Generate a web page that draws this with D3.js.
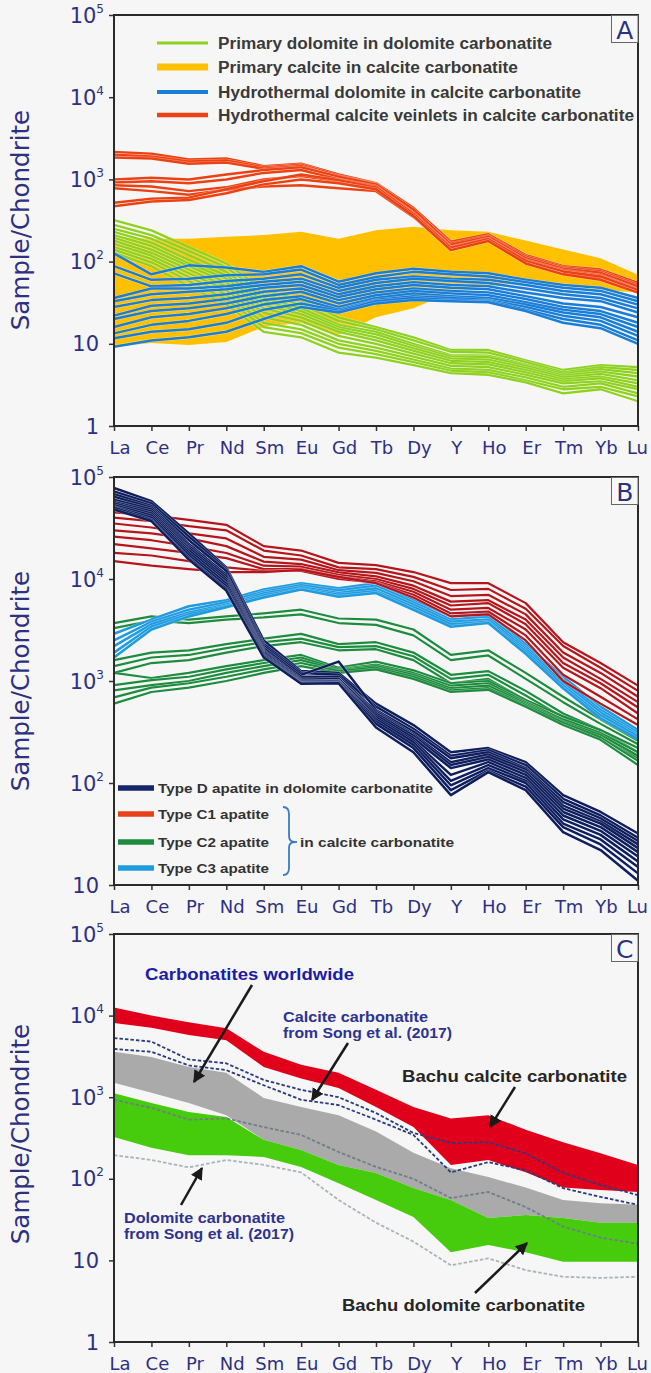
<!DOCTYPE html>
<html>
<head>
<meta charset="utf-8">
<script src="https://cdn.jsdelivr.net/npm/d3@7"></script>
<style>
  html, body { margin: 0; padding: 0; background: #f6f6f6; }
  svg { display: block; }
</style>
</head>
<body>
<svg id="chart" width="651" height="1373"></svg>
<script>
// ---------- shared axis data ----------
const elements = ["La","Ce","Pr","Nd","Sm","Eu","Gd","Tb","Dy","Y","Ho","Er","Tm","Yb","Lu"];
const ticksA = [1, 10, 1e2, 1e3, 1e4, 1e5];
const ticksB = [10, 1e2, 1e3, 1e4, 1e5];
const ticksC = [1, 10, 1e2, 1e3, 1e4, 1e5];

// ---------- panel A: carbonate minerals ----------
const primaryDolomite = [
  [320, 240, 150, 95, 45, 34, 21, 16, 12, 8.4, 8.4, 6.3, 4.8, 5.5, 5.2],
  [280, 210, 135, 85, 40, 30, 19, 15, 11, 8.0, 7.8, 6.0, 4.5, 5.2, 4.8],
  [250, 190, 120, 75, 36, 27, 17, 14, 10, 7.3, 7.2, 5.6, 4.3, 4.9, 4.4],
  [230, 170, 105, 68, 33, 25, 16, 13, 9.4, 7.0, 6.9, 5.4, 4.1, 4.6, 4.0],
  [210, 155, 95, 62, 30, 23, 15, 12, 8.8, 6.6, 6.4, 5.1, 3.9, 4.3, 3.6],
  [195, 140, 88, 56, 27, 21, 14, 11, 8.2, 6.2, 6.0, 4.8, 3.7, 4.0, 3.3],
  [180, 128, 80, 50, 24, 19, 12.5, 10, 7.6, 5.8, 5.6, 4.5, 3.5, 3.8, 3.0],
  [165, 118, 72, 45, 21, 17, 11, 9.0, 7.0, 5.4, 5.2, 4.2, 3.3, 3.5, 2.8],
  [150, 108, 65, 40, 18, 15, 10, 8.2, 6.4, 5.0, 4.8, 3.9, 3.0, 3.3, 2.5],
  [140, 98, 58, 35, 16, 13.5, 9.0, 7.5, 6.0, 4.7, 4.5, 3.6, 2.8, 3.0, 2.3],
  [128, 88, 50, 30, 14, 12, 7.8, 6.8, 5.5, 4.4, 4.2, 3.4, 2.5, 2.8, 2.0]
];
const primaryCalciteUpper = [200, 190, 190, 200, 210, 230, 190, 240, 265, 240, 230, 180, 140, 110, 69];
const primaryCalciteLower = [9.2, 10.2, 9.7, 10.5, 16, 18, 12.8, 21, 27, 42, 50, 55, 48, 45, 42];
const hydroDolomite = [
  [126, 70, 90, 85, 75, 88, 57, 72, 82, 75, 72, 60, 52, 48, 36],
  [88, 60, 62, 68, 70, 80, 52, 65, 75, 70, 66, 56, 48, 44, 33],
  [72, 50, 52, 58, 62, 70, 48, 60, 66, 62, 60, 52, 44, 40, 30],
  [36, 47, 47, 50, 57, 62, 44, 55, 62, 58, 55, 47, 40, 36, 27],
  [33, 40, 43, 46, 52, 57, 40, 50, 56, 52, 50, 42, 36, 33, 24],
  [28, 34, 36, 40, 48, 52, 37, 46, 52, 48, 46, 38, 31, 28, 21],
  [22, 29, 31, 35, 43, 47, 34, 42, 47, 44, 42, 35, 28, 25, 18],
  [20, 25, 27, 31, 38, 43, 31, 39, 44, 41, 39, 32, 26, 23, 16],
  [16, 21, 23, 27, 34, 38, 28, 36, 41, 38, 36, 30, 24, 21, 14],
  [13.4, 17, 19, 23, 30, 35, 26, 34, 38, 36, 34, 28, 22, 19, 12.5],
  [11.7, 14, 15, 18, 26, 31, 25, 33, 36, 34, 33, 26, 20, 17, 11],
  [9.2, 11, 12, 14, 20, 28, 24, 31, 34, 33, 32, 25, 18, 15.5, 10]
];
const hydroCalcite = [
  [2150, 2050, 1750, 1800, 1450, 1550, 1150, 900, 450, 175, 215, 120, 88, 80, 55],
  [2000, 1900, 1650, 1700, 1400, 1500, 1100, 880, 420, 165, 205, 115, 85, 76, 52],
  [1850, 1800, 1550, 1600, 1350, 1450, 1050, 850, 400, 155, 195, 108, 80, 72, 49],
  [1000, 1050, 1000, 1150, 1300, 1400, 1080, 870, 430, 160, 200, 110, 82, 73, 50],
  [920, 950, 900, 1000, 1200, 1300, 1000, 820, 390, 150, 190, 104, 78, 68, 46],
  [850, 820, 720, 800, 1000, 1100, 950, 780, 370, 145, 185, 100, 75, 65, 44],
  [780, 720, 650, 750, 820, 850, 780, 720, 350, 140, 180, 96, 72, 62, 43],
  [520, 580, 600, 760, 950, 1150, 980, 800, 380, 148, 188, 102, 76, 66, 45],
  [470, 540, 560, 680, 870, 1000, 900, 760, 360, 138, 178, 95, 70, 60, 42]
];
const legendA = [
  "Primary dolomite in dolomite carbonatite",
  "Primary calcite in calcite carbonatite",
  "Hydrothermal dolomite in calcite carbonatite",
  "Hydrothermal calcite veinlets in calcite carbonatite"
];

// ---------- panel B: apatite ----------
const apatiteD = [
  [78000, 58000, 28000, 13000, 2500, 1250, 1200, 600, 370, 200, 220, 160, 76, 52, 32],
  [72000, 55000, 26000, 12500, 2300, 1200, 1150, 560, 340, 185, 210, 150, 70, 48, 29],
  [68000, 52000, 24000, 12000, 2200, 1150, 1550, 520, 320, 175, 200, 140, 65, 45, 27],
  [64000, 50000, 22000, 11000, 2100, 1100, 1100, 500, 300, 160, 190, 135, 60, 42, 25],
  [60000, 48000, 21000, 10500, 2000, 1050, 1050, 480, 290, 150, 180, 128, 56, 40, 23],
  [57000, 46000, 20000, 10000, 1950, 1020, 1050, 460, 275, 140, 170, 120, 52, 37, 21],
  [55000, 44000, 19000, 9500, 1900, 1000, 1000, 440, 260, 120, 160, 112, 48, 34, 19],
  [53000, 42000, 18000, 9000, 1850, 980, 1000, 420, 250, 105, 150, 105, 44, 31, 17],
  [51000, 40000, 17000, 8500, 1800, 960, 980, 400, 235, 95, 140, 100, 40, 28, 15],
  [50000, 38000, 16000, 8000, 1750, 950, 960, 380, 220, 85, 132, 92, 37, 25, 13],
  [48000, 37000, 15500, 7700, 1700, 940, 950, 350, 200, 76, 128, 85, 33, 22, 11]
];
const apatiteC1 = [
  [45000, 42000, 38000, 34000, 21000, 19000, 14400, 13700, 11700, 9100, 9100, 5800, 2400, 1500, 900],
  [40000, 37000, 33000, 30000, 19000, 17000, 13000, 12500, 10500, 7800, 8000, 5100, 2200, 1350, 800],
  [35000, 32000, 28000, 25000, 16500, 15500, 12200, 11500, 9500, 6800, 7000, 4500, 1900, 1200, 700],
  [30000, 28000, 25000, 21000, 14800, 14000, 11600, 10600, 8600, 6000, 6200, 4000, 1700, 1050, 620],
  [26000, 24000, 21000, 18000, 13500, 13200, 11000, 10000, 8000, 5500, 5800, 3600, 1500, 950, 550],
  [22000, 20000, 18000, 16000, 12500, 12500, 10500, 9500, 7500, 5000, 5200, 3200, 1350, 850, 480],
  [18000, 17000, 15000, 13000, 12000, 12000, 10000, 9200, 7000, 4600, 4800, 2800, 1150, 700, 420],
  [15000, 13500, 12500, 11700, 11700, 12300, 10500, 9100, 6600, 4300, 4500, 2500, 1000, 600, 370]
];
const apatiteC2 = [
  [3700, 4300, 4000, 4300, 4600, 5000, 4100, 4000, 3200, 1800, 2000, 1200, 700, 420, 260],
  [3300, 3900, 3700, 4000, 4200, 4500, 3700, 3550, 2800, 1600, 1780, 1050, 620, 380, 240],
  [1600, 1900, 2000, 2300, 2600, 2900, 2300, 2400, 1900, 1150, 1250, 800, 480, 330, 200],
  [1400, 1700, 1800, 2100, 2400, 2600, 2150, 2200, 1750, 1050, 1150, 720, 440, 300, 185],
  [1200, 1500, 1600, 1900, 2200, 2400, 2000, 2050, 1600, 950, 1050, 650, 400, 280, 175],
  [1200, 1070, 1200, 1400, 1600, 1800, 1350, 1550, 1270, 950, 1000, 650, 450, 330, 220],
  [910, 1020, 1100, 1300, 1500, 1700, 1300, 1450, 1200, 900, 950, 620, 420, 310, 200],
  [810, 910, 1000, 1200, 1400, 1600, 1270, 1400, 1150, 850, 900, 600, 400, 295, 185],
  [690, 860, 950, 1100, 1300, 1500, 1250, 1350, 1100, 810, 850, 580, 390, 280, 165],
  [600, 780, 860, 1000, 1200, 1400, 1200, 1300, 1050, 780, 820, 560, 370, 265, 150]
];
const apatiteC3 = [
  [2900, 4000, 5400, 6200, 7900, 9100, 8100, 9100, 6200, 4300, 4600, 2300, 1100, 560, 330],
  [2500, 3800, 5000, 5900, 7500, 8700, 7700, 8600, 5900, 4000, 4300, 2150, 1020, 520, 310],
  [2200, 3600, 4700, 5600, 7200, 8300, 7300, 8100, 5600, 3800, 4000, 2050, 960, 490, 295],
  [1900, 3400, 4500, 5400, 6900, 8000, 7000, 7600, 5300, 3600, 3800, 1950, 900, 460, 285],
  [1700, 3200, 4300, 5300, 6600, 7900, 6700, 7300, 5000, 3400, 3700, 1850, 850, 430, 270]
];
const legendB = [
  "Type D apatite in dolomite carbonatite",
  "Type C1 apatite",
  "Type C2 apatite",
  "Type C3 apatite"
];

// ---------- panel C: whole-rock fields ----------
const worldUpper = [3600, 3100, 2340, 2000, 980, 760, 600, 380, 208, 135, 105, 78, 55, 50, 48];
const worldLower = [1500, 1130, 850, 600, 300, 225, 148, 118, 77, 55, 33, 36, 33, 29, 29];
const bachuCalciteUpper = [12600, 10000, 8300, 7000, 3600, 2500, 2000, 1230, 760, 550, 600, 400, 280, 205, 148];
const bachuCalciteLower = [8100, 7100, 5800, 5000, 2340, 1700, 1300, 760, 430, 148, 170, 120, 78, 73, 69];
const bachuDolomiteUpper = [1120, 850, 660, 570, 300, 225, 148, 118, 77, 55, 33, 36, 33, 29, 29];
const bachuDolomiteLower = [325, 240, 195, 195, 185, 140, 88, 55, 34, 12.6, 15.4, 12.6, 9.6, 9.6, 9.6];
const songCalciteUpper = [5300, 4800, 2900, 2600, 1630, 1230, 1000, 640, 365, 275, 280, 205, 118, 84, 63];
const songCalciteLower = [3900, 3600, 2450, 2150, 1400, 930, 800, 530, 345, 120, 160, 127, 77, 60, 48];
const songDolomiteUpper = [930, 740, 530, 550, 430, 345, 213, 140, 100, 58, 69, 45, 26, 19, 16];
const songDolomiteLower = [195, 170, 138, 170, 148, 120, 55, 29, 17, 8.7, 10.6, 7.6, 6.3, 6.1, 6.3];

// ---------- drawing ----------
const svg = d3.select("#chart");
const NAVY = "#2e3082";
const plotLeft = 114, plotRight = 638;
const x = d3.scalePoint().domain(elements).range([plotLeft, plotRight]);

const yA = d3.scaleLog().domain([1, 1e5]).range([426, 15]);
const yB = d3.scaleLog().domain([10, 1e5]).range([885, 477]);
const yC = d3.scaleLog().domain([1, 1e5]).range([1342, 934]);

const condensed = "'Liberation Sans Narrow','Arial Narrow','Liberation Sans',Arial,sans-serif";
const plain = "'DejaVu Sans',Verdana,sans-serif";

function lineGen(y) {
  return d3.line().x((d, i) => x(elements[i])).y(d => y(d));
}
function areaGen(y, upper, lower) {
  return d3.area()
    .x((d, i) => x(elements[i]))
    .y0((d, i) => y(lower[i]))
    .y1((d, i) => y(upper[i]));
}

// each sample line gets a faint light edge so overlapping lines stay distinct
function drawLines(g, y, series, color, width) {
  const gen = lineGen(y);
  series.forEach(s => {
    g.append("path").attr("d", gen(s)).attr("fill", "none")
      .attr("stroke", "#ffffff").attr("stroke-opacity", 0.45)
      .attr("stroke-width", width + 0.9).attr("stroke-linejoin", "round");
    g.append("path").attr("d", gen(s)).attr("fill", "none")
      .attr("stroke", color).attr("stroke-width", width)
      .attr("stroke-linejoin", "round");
  });
}

function fitText(g, str, xPos, yPos, width, size, color, weight) {
  return g.append("text").attr("x", xPos).attr("y", yPos)
    .attr("font-family", condensed).attr("font-weight", weight || "bold")
    .attr("font-size", size).attr("fill", color)
    .attr("textLength", width).attr("lengthAdjust", "spacingAndGlyphs")
    .text(str);
}

function axesAndFrame(y, ticks, top, bottom, letter, yTitleCenter) {
  const g = svg.append("g");
  // left ticks
  const ya = g.append("g").attr("transform", `translate(${plotLeft},0)`)
    .call(d3.axisLeft(y).tickValues(ticks).tickSize(5).tickFormat(""));
  ya.select(".domain").remove();
  ya.selectAll("line").attr("stroke", "#333").attr("stroke-width", 1.5);
  // bottom ticks
  const xa = g.append("g").attr("transform", `translate(0,${bottom})`)
    .call(d3.axisBottom(x).tickSize(5).tickFormat(""));
  xa.select(".domain").remove();
  xa.selectAll("line").attr("stroke", "#333").attr("stroke-width", 1.5);

  // y tick labels (powers of ten)
  ticks.forEach(v => {
    const e = Math.round(Math.log10(v));
    const t = g.append("text").attr("y", y(v) + 7.5)
      .attr("font-family", plain).attr("font-size", 21).attr("fill", NAVY)
      .attr("text-anchor", "end");
    if (e >= 2) {
      t.attr("x", 104);
      t.append("tspan").text("10");
      t.append("tspan").attr("font-size", 12).attr("dy", -10).text(e);
    } else {
      t.attr("x", 99).text(String(v));
    }
  });

  // element labels
  elements.forEach((el, i) => {
    const t = g.append("text").attr("y", bottom + 28)
      .attr("font-family", plain).attr("font-size", 18).attr("fill", NAVY);
    if (i === elements.length - 1) {
      t.attr("x", 648).attr("text-anchor", "end");
    } else {
      t.attr("x", x(el) + 6).attr("text-anchor", "middle");
    }
    t.text(el);
  });

  // y title
  g.append("text")
    .attr("transform", `translate(29,${yTitleCenter}) rotate(-90)`)
    .attr("text-anchor", "middle")
    .attr("font-family", plain).attr("font-size", 24.5).attr("fill", NAVY)
    .text("Sample/Chondrite");

  // frame
  g.append("rect").attr("x", plotLeft).attr("y", top)
    .attr("width", plotRight - plotLeft).attr("height", bottom - top)
    .attr("fill", "none").attr("stroke", "#2a2a2a").attr("stroke-width", 2);

  // panel letter
  g.append("rect").attr("x", 611.5).attr("y", top + 0.5).attr("width", 26.5).attr("height", 27)
    .attr("fill", "#f8f8f8").attr("stroke", "#666").attr("stroke-width", 1);
  g.append("text").attr("x", 624.8).attr("y", top + 24)
    .attr("text-anchor", "middle").attr("font-family", plain)
    .attr("font-size", 25).attr("fill", NAVY).text(letter);
}

// ===== Panel A =====
const gA = svg.append("g");
gA.append("path")
  .attr("d", areaGen(yA, primaryCalciteUpper, primaryCalciteLower)(elements))
  .attr("fill", "#ffc000");
drawLines(gA, yA, primaryDolomite, "#8fd11f", 2.3);
drawLines(gA, yA, hydroDolomite, "#1a7ed6", 2.5);
drawLines(gA, yA, hydroCalcite, "#ec4213", 2.5);

// legend A
const legA = svg.append("g");
const legAColors = ["#8fd11f", "#ffc000", "#1a7ed6", "#ec4213"];
const legAWidths = [3, 7, 4, 4.5];
const legARows = [43, 67, 92, 115];
const legATextW = [334, 300, 363, 416];
legendA.forEach((label, i) => {
  legA.append("line").attr("x1", 157).attr("x2", 208)
    .attr("y1", legARows[i]).attr("y2", legARows[i])
    .attr("stroke", legAColors[i]).attr("stroke-width", legAWidths[i]);
  fitText(legA, label, 218, legARows[i] + 6, legATextW[i], 16, "#3a3a3a");
});
axesAndFrame(yA, ticksA, 15, 426, "A", 220);

// ===== Panel B =====
const gB = svg.append("g");
drawLines(gB, yB, apatiteC2, "#1e8c3e", 2.2);
drawLines(gB, yB, apatiteC3, "#1f9be0", 2.6);
drawLines(gB, yB, apatiteC1, "#b5161c", 2.2);
drawLines(gB, yB, apatiteD, "#0f1f5e", 2.5);

// legend B
const legB = svg.append("g");
const legBColors = ["#15256a", "#e8401a", "#1e8c3e", "#1f9be0"];
const legBRows = [788, 814, 842, 868];
const legBTextW = [275, 111, 111, 111];
legendB.forEach((label, i) => {
  legB.append("line").attr("x1", 118).attr("x2", 154)
    .attr("y1", legBRows[i]).attr("y2", legBRows[i])
    .attr("stroke", legBColors[i]).attr("stroke-width", 5.5);
  fitText(legB, label, 158, legBRows[i] + 5, legBTextW[i], 13.5, "#333");
});
legB.append("path")
  .attr("d", "M283,807 Q289,807 289,814 L289,836 Q289,842 295,842 Q289,842 289,848 L289,868 Q289,875 283,875")
  .attr("fill", "none").attr("stroke", "#3c7bbd").attr("stroke-width", 1.8);
legB.append("line").attr("x1", 291).attr("x2", 297).attr("y1", 842).attr("y2", 842)
  .attr("stroke", "#3c7bbd").attr("stroke-width", 1.8);
fitText(legB, "in calcite carbonatite", 300, 847, 154, 13.5, "#333");
axesAndFrame(yB, ticksB, 477, 885, "B", 681);

// ===== Panel C =====
const gC = svg.append("g");
gC.append("path").attr("d", areaGen(yC, worldUpper, worldLower)(elements)).attr("fill", "#aaaaaa");
gC.append("path").attr("d", areaGen(yC, bachuDolomiteUpper, bachuDolomiteLower)(elements)).attr("fill", "#46cc0c");
gC.append("path").attr("d", areaGen(yC, bachuCalciteUpper, bachuCalciteLower)(elements)).attr("fill", "#e0001b");

const lc = lineGen(yC);
[[songCalciteUpper, "#2a3a7e"], [songCalciteLower, "#2a3a7e"],
 [songDolomiteUpper, "#6f7f85"], [songDolomiteLower, "#a9b3b8"]].forEach(([s, c]) => {
  gC.append("path").attr("d", lc(s)).attr("fill", "none")
    .attr("stroke", c).attr("stroke-width", 1.8).attr("stroke-dasharray", "3.5,2");
});

// annotation arrows
const defs = svg.append("defs");
defs.append("marker").attr("id", "arrowHead").attr("viewBox", "0 0 10 10")
  .attr("refX", 9).attr("refY", 5).attr("markerWidth", 5).attr("markerHeight", 5)
  .attr("markerUnits", "strokeWidth").attr("orient", "auto")
  .append("path").attr("d", "M0,0 L10,5 L0,10 Z").attr("fill", "#1a1a1a");
const arrows = [
  [252, 985, 194, 1082],
  [348, 1043, 312, 1100],
  [515, 1087, 490, 1127],
  [181, 1205, 202, 1168],
  [475, 1293, 527, 1243]
];
arrows.forEach(([x1, y1, x2, y2]) => {
  gC.append("line").attr("x1", x1).attr("y1", y1).attr("x2", x2).attr("y2", y2)
    .attr("stroke", "#1a1a1a").attr("stroke-width", 2.5).attr("marker-end", "url(#arrowHead)");
});

fitText(gC, "Carbonatites worldwide", 145, 980, 209, 17, "#1c1ca6");
fitText(gC, "Calcite carbonatite", 283, 1022, 145, 15.5, "#2e3390");
fitText(gC, "from Song et al. (2017)", 283, 1038, 169, 15.5, "#2e3390");
fitText(gC, "Bachu calcite carbonatite", 402, 1082, 225, 17, "#262626");
fitText(gC, "Dolomite carbonatite", 124, 1223, 161, 15.5, "#2e3390");
fitText(gC, "from Song et al. (2017)", 124, 1239, 170, 15.5, "#2e3390");
fitText(gC, "Bachu dolomite carbonatite", 342, 1311, 243, 17, "#262626");
axesAndFrame(yC, ticksC, 934, 1342, "C", 1134);
</script>
</body>
</html>
